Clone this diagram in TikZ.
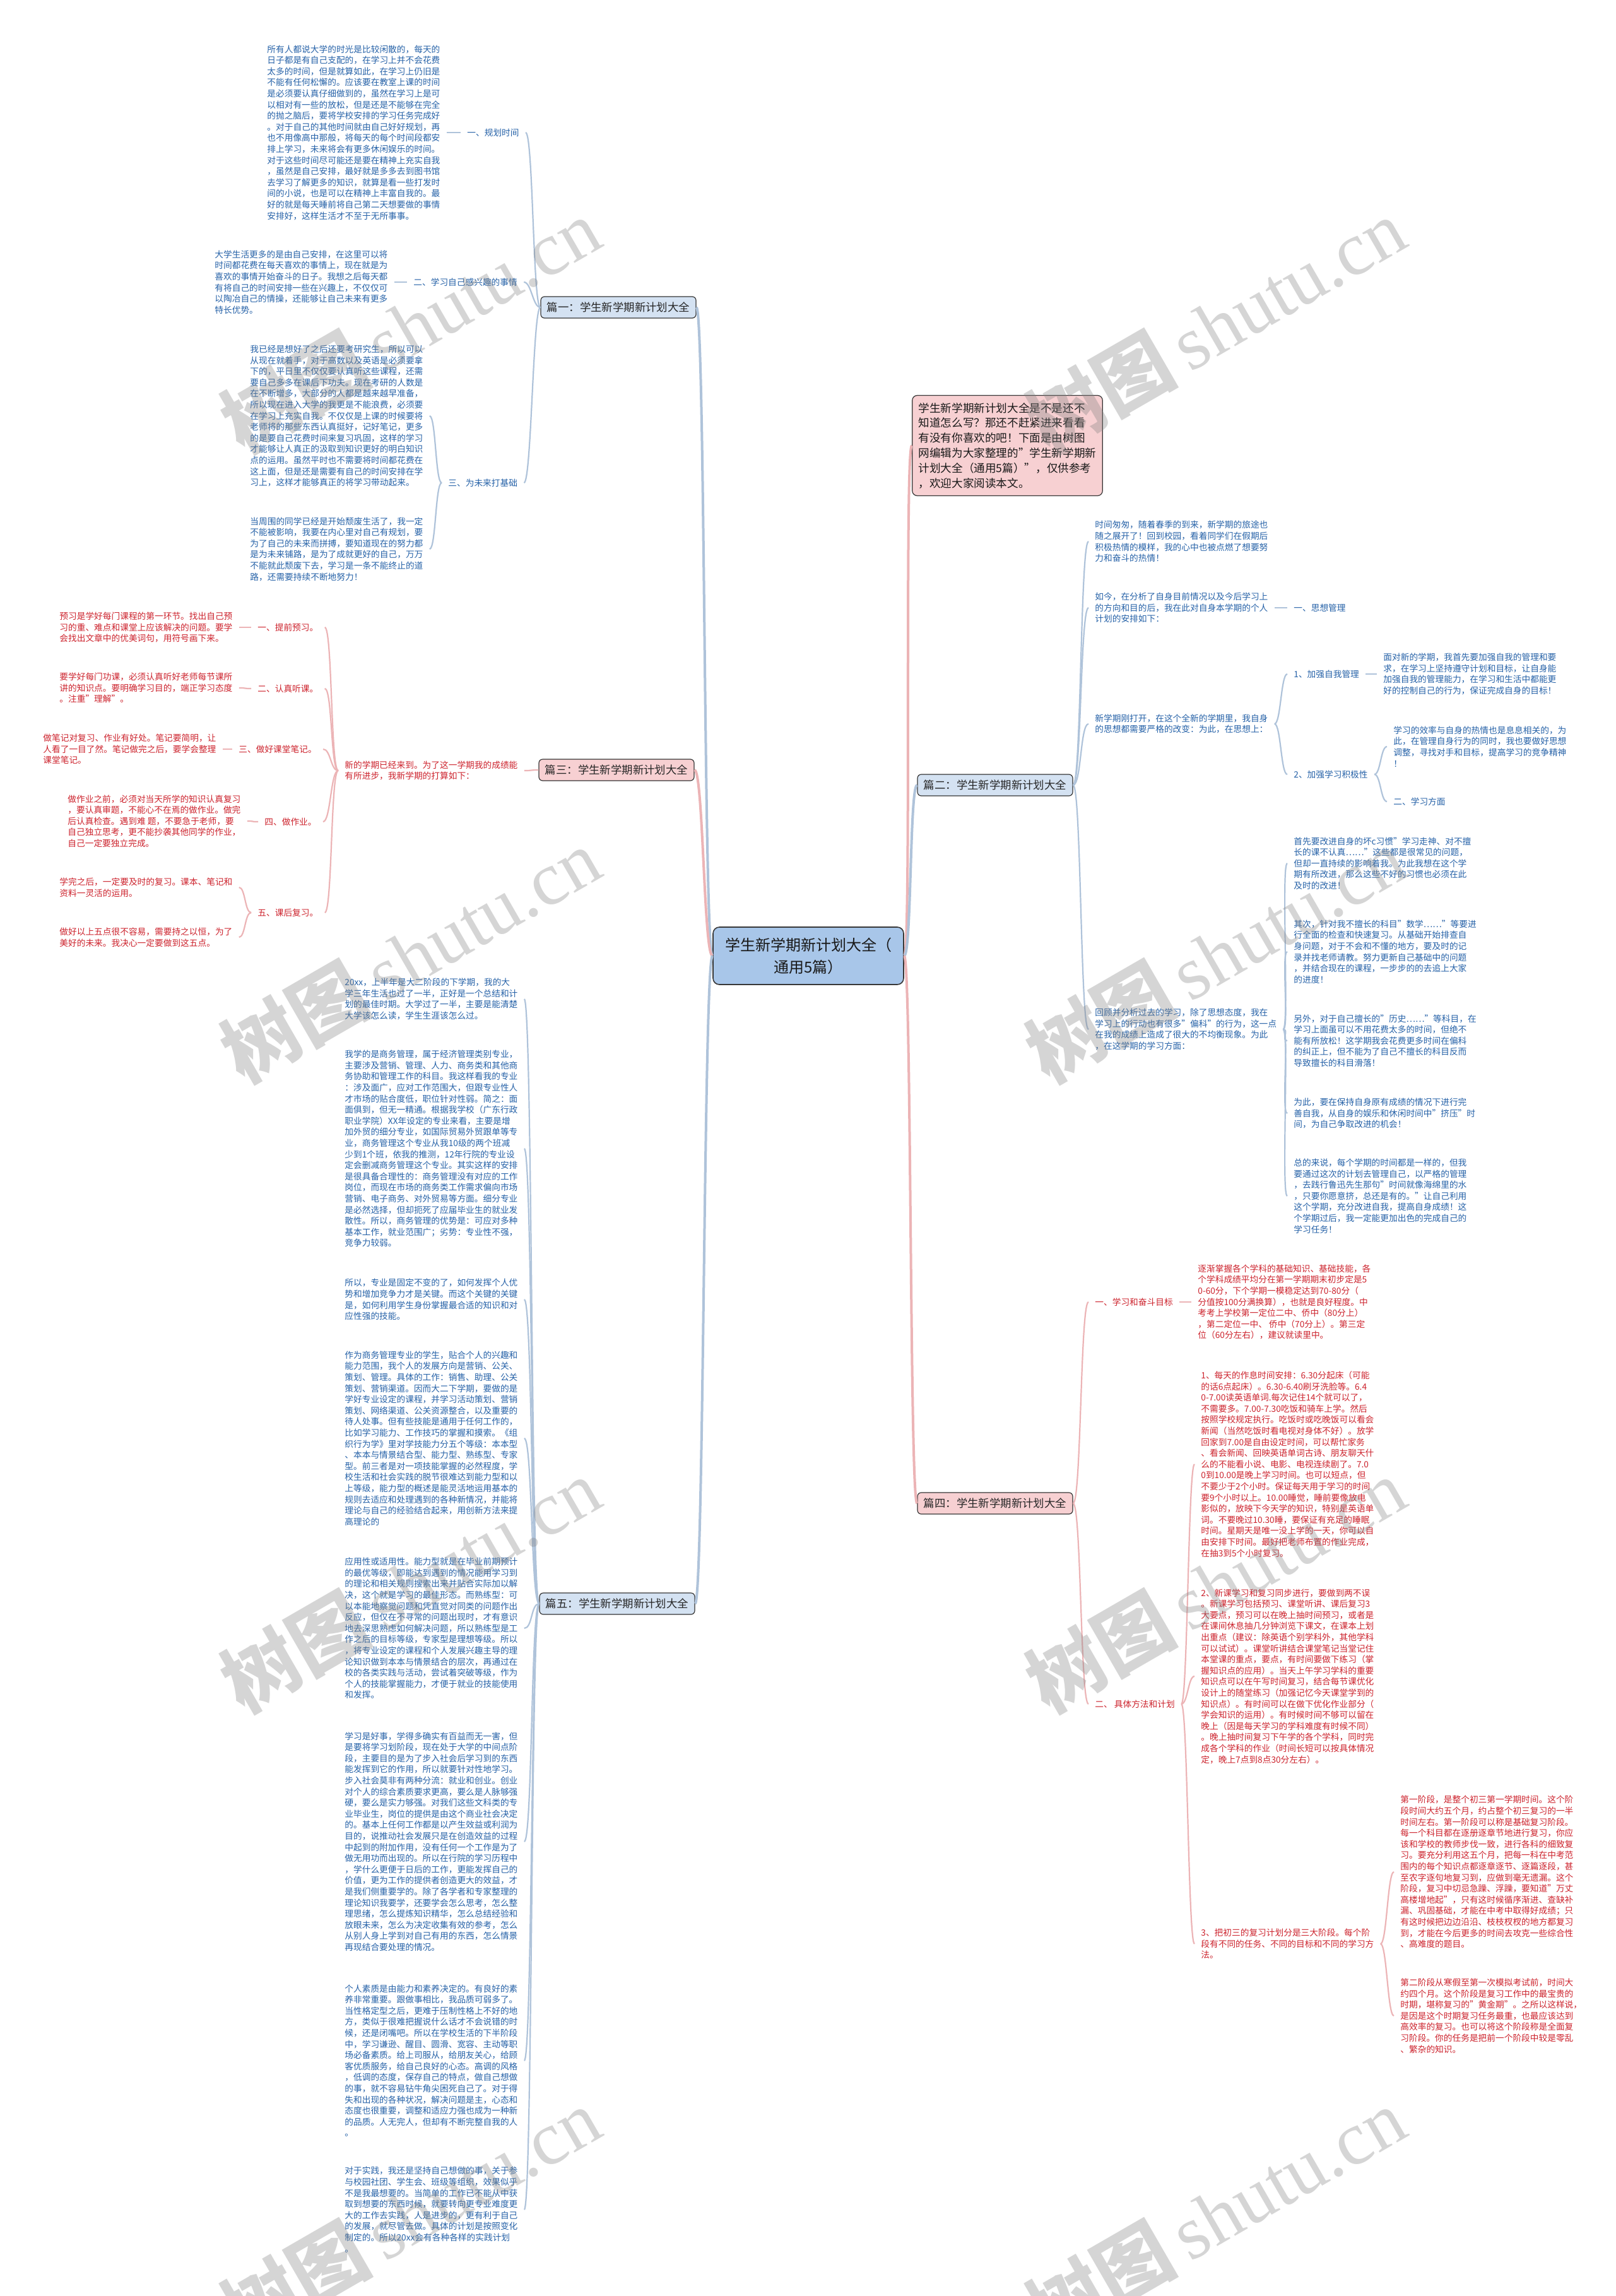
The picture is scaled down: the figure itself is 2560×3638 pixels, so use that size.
\documentclass[tikz,border=0pt]{standalone}
\usepackage{fontspec}
\setmainfont{Noto Sans CJK SC}
\newfontfamily\wmserif{Liberation Serif}
\definecolor{bluet}{RGB}{38,98,168}
\definecolor{redt}{RGB}{205,35,45}
\definecolor{bluel}{RGB}{175,195,218}
\definecolor{redl}{RGB}{236,180,182}
\definecolor{boxb}{RGB}{212,226,242}
\definecolor{boxr}{RGB}{247,208,210}
\definecolor{boxc}{RGB}{168,198,233}
\definecolor{boxd}{RGB}{55,55,55}
\newcommand\txtfont{\fontsize{6.85}{8.8}\selectfont}
\newcommand\lkR[4][14]{\draw[#2] (#3) .. controls +(#1,0) and +(-#1,0) .. (#4);}
\newcommand\lkL[4][14]{\draw[#2] (#3) .. controls +(-#1,0) and +(#1,0) .. (#4);}
\begin{document}
\begin{tikzpicture}[x=0.5pt,y=-0.5pt,
  bt/.style={text=bluet, font=\txtfont, align=left, anchor=west, inner xsep=5pt, inner ysep=1pt},
  rt/.style={bt, text=redt},
  bl/.style={draw=bluel, line width=1.1pt},
  rl/.style={draw=redl, line width=1.1pt},
  bm/.style={draw=bluel, line width=2pt},
  rm/.style={draw=redl, line width=2pt},
  pbox/.style={draw=boxd, line width=0.6pt, rounded corners=3pt, font=\fontsize{8.7}{10}\selectfont, minimum width=123pt, minimum height=17pt, inner sep=2pt, text=black!85},
  bbox/.style={pbox, fill=boxb},
  rbox/.style={pbox, fill=boxr},
  cbox/.style={draw=boxd, line width=0.8pt, rounded corners=5pt, fill=boxc, font=\fontsize{12}{17.5}\selectfont, align=center, minimum width=151pt, minimum height=45.5pt, text=black!90},
  introbox/.style={draw=boxd, line width=0.6pt, rounded corners=4pt, fill=boxr, font=\fontsize{8.8}{11.9}\selectfont, align=left, minimum width=144.5pt, minimum height=79.5pt, inner xsep=5pt, text=black!90},
  wm/.style={font=\fontsize{60}{60}\selectfont, text=gray, opacity=0.33, rotate=30}
]
\useasboundingbox (0,0) rectangle (2560,3638);
\fill[white] (0,0) rectangle (2560,3638);

% ---------- center and main boxes ----------
\node[cbox] (c) at (1281,1514.5) {学生新学期新计划大全（\\通用5篇）};
\node[introbox] (intro) at (1596.5,706) {学生新学期新计划大全是不是还不\\知道怎么写？那还不赶紧进来看看\\有没有你喜欢的吧！下面是由树图\\网编辑为大家整理的"学生新学期新\\计划大全（通用5篇）"，仅供参考\\，欢迎大家阅读本文。};
\node[bbox] (n1) at (980,487) {篇一：学生新学期新计划大全};
\node[rbox] (n3) at (977,1220) {篇三：学生新学期新计划大全};
\node[bbox] (n5) at (978,2541) {篇五：学生新学期新计划大全};
\node[bbox] (n2) at (1577,1244) {篇二：学生新学期新计划大全};
\node[rbox] (n4) at (1577,2382) {篇四：学生新学期新计划大全};

\lkL[14]{bm}{c.west}{n1.east}
\lkL[14]{rm}{c.west}{n3.east}
\lkL[14]{bm}{c.west}{n5.east}
\lkR[12]{rm}{c.east}{intro.west}
\lkR[12]{bm}{c.east}{n2.west}
\lkR[12]{rm}{c.east}{n4.west}

% ---------- 篇一 ----------
\node[bt] (tA) at (413,210) {所有人都说大学的时光是比较闲散的，每天的\\日子都是有自己支配的，在学习上并不会花费\\太多的时间，但是就算如此，在学习上仍旧是\\不能有任何松懈的。应该要在教室上课的时间\\是必须要认真仔细做到的，虽然在学习上是可\\以相对有一些的放松，但是还是不能够在完全\\的抛之脑后，要将学校安排的学习任务完成好\\。对于自己的其他时间就由自己好好规划，再\\也不用像高中那般，将每天的每个时间段都安\\排上学习，未来将会有更多休闲娱乐的时间。\\对于这些时间尽可能还是要在精神上充实自我\\，虽然是自己安排，最好就是多多去到图书馆\\去学习了解更多的知识，就算是看一些打发时\\间的小说，也是可以在精神上丰富自我的。最\\好的就是每天睡前将自己第二天想要做的事情\\安排好，这样生活才不至于无所事事。};
\node[bt] (lA) at (730,210) {一、规划时间};
\node[bt] (tB) at (330,447) {大学生活更多的是由自己安排，在这里可以将\\时间都花费在每天喜欢的事情上，现在就是为\\喜欢的事情开始奋斗的日子。我想之后每天都\\有将自己的时间安排一些在兴趣上，不仅仅可\\以陶冶自己的情操，还能够让自己未来有更多\\特长优势。};
\node[bt] (lB) at (645,447) {二、学习自己感兴趣的事情};
\node[bt] (tC) at (386,659) {我已经是想好了之后还要考研究生，所以可以\\从现在就着手，对于高数以及英语是必须要拿\\下的，平日里不仅仅要认真听这些课程，还需\\要自己多多在课后下功夫。现在考研的人数是\\在不断增多，大部分的人都是越来越早准备，\\所以现在进入大学的我更是不能浪费，必须要\\在学习上充实自我。不仅仅是上课的时候要将\\老师将的那些东西认真挺好，记好笔记，更多\\的是要自己花费时间来复习巩固，这样的学习\\才能够让人真正的汲取到知识更好的明白知识\\点的运用。虽然平时也不需要将时间都花费在\\这上面，但是还是需要有自己的时间安排在学\\习上，这样才能够真正的将学习带动起来。};
\node[bt] (tD) at (386,870) {当周围的同学已经是开始颓废生活了，我一定\\不能被影响，我要在内心里对自己有规划，要\\为了自己的未来而拼搏，要知道现在的努力都\\是为未来铺路，是为了成就更好的自己，万万\\不能就此颓废下去，学习是一条不能终止的道\\路，还需要持续不断地努力！};
\node[bt] (lC) at (700,765) {三、为未来打基础};
\lkR{bl}{tA.east}{lA.west}
\lkR{bl}{tB.east}{lB.west}
\lkL[10]{bl}{lC.west}{tC.east}
\lkL[10]{bl}{lC.west}{tD.east}
\lkL[12]{bl}{n1.west}{lA.east}
\lkL[12]{bl}{n1.west}{lB.east}
\lkL[12]{bl}{n1.west}{lC.east}

% ---------- 篇三 ----------
\node[rt] (t3) at (536,1221) {新的学期已经来到。为了这一学期我的成绩能\\有所进步，我新学期的打算如下：};
\node[rt] (l31) at (398,994) {一、提前预习。};
\node[rt] (l32) at (398,1091) {二、认真听课。};
\node[rt] (l33) at (368,1187) {三、做好课堂笔记。};
\node[rt] (l34) at (409,1302) {四、做作业。};
\node[rt] (l35) at (398,1446) {五、课后复习。};
\node[rt] (t31) at (84,994) {预习是学好每门课程的第一环节。找出自己预\\习的重、难点和课堂上应该解决的问题。要学\\会找出文章中的优美词句，用符号画下来。};
\node[rt] (t32) at (84,1090) {要学好每门功课，必须认真听好老师每节课所\\讲的知识点。要明确学习目的，端正学习态度\\。注重"理解"。};
\node[rt] (t33) at (58,1187) {做笔记对复习、作业有好处。笔记要简明，让\\人看了一目了然。笔记做完之后，要学会整理\\课堂笔记。};
\node[rt] (t34) at (97,1301) {做作业之前，必须对当天所学的知识认真复习\\，要认真审题，不能心不在焉的做作业。做完\\后认真检查。遇到难 题，不要急于老师，要\\自己独立思考，更不能抄袭其他同学的作业，\\自己一定要独立完成。};
\node[rt] (t35a) at (84,1406) {学完之后，一定要及时的复习。课本、笔记和\\资料一灵活的运用。};
\node[rt] (t35b) at (84,1485) {做好以上五点很不容易，需要持之以恒，为了\\美好的未来。我决心一定要做到这五点。};
\lkL{rl}{n3.west}{t3.east}
\lkL[12]{rl}{t3.west}{l31.east}
\lkL[12]{rl}{t3.west}{l32.east}
\lkL[12]{rl}{t3.west}{l33.east}
\lkL[12]{rl}{t3.west}{l34.east}
\lkL[12]{rl}{t3.west}{l35.east}
\lkL{rl}{l31.west}{t31.east}
\lkL{rl}{l32.west}{t32.east}
\lkL{rl}{l33.west}{t33.east}
\lkL{rl}{l34.west}{t34.east}
\lkL[10]{rl}{l35.west}{t35a.east}
\lkL[10]{rl}{l35.west}{t35b.east}

% ---------- 篇二 ----------
\node[bt] (t21) at (1725,858) {时间匆匆，随着春季的到来，新学期的旅途也\\随之展开了！回到校园，看着同学们在假期后\\积极热情的模样，我的心中也被点燃了想要努\\力和奋斗的热情！};
\node[bt] (t22) at (1725,963) {如今，在分析了自身目前情况以及今后学习上\\的方向和目的后，我在此对自身本学期的个人\\计划的安排如下：};
\node[bt] (l21) at (2040,963) {一、思想管理};
\node[bt] (t23) at (1725,1147) {新学期刚打开，在这个全新的学期里，我自身\\的思想都需要严格的改变：为此，在思想上：};
\node[bt] (l22) at (2040,1068) {1、加强自我管理};
\node[bt] (t24) at (2182,1068) {面对新的学期，我首先要加强自我的管理和要\\求，在学习上坚持遵守计划和目标，让自身能\\加强自我的管理能力，在学习和生活中都能更\\好的控制自己的行为，保证完成自身的目标！};
\node[bt] (l23) at (2040,1227) {2、加强学习积极性};
\node[bt] (t25) at (2198,1183) {学习的效率与自身的热情也是息息相关的，为\\此，在管理自身行为的同时，我也要做好思想\\调整，寻找对手和目标，提高学习的竞争精神\\！};
\node[bt] (l24) at (2198,1270) {二、学习方面};
\node[bt] (t26) at (1725,1631) {回顾并分析过去的学习，除了思想态度，我在\\学习上的行动也有很多"偏科"的行为，这一点\\在我的成绩上造成了很大的不均衡现象。为此\\，在这学期的学习方面：};
\node[bt] (p1) at (2040,1368) {首先要改进自身的坏c习惯"学习走神、对不擅\\长的课不认真……"这些都是很常见的问题，\\但却一直持续的影响着我。为此我想在这个学\\期有所改进，那么这些不好的习惯也必须在此\\及时的改进！};
\node[bt] (p2) at (2040,1508) {其次，针对我不擅长的科目"数学……"等要进\\行全面的检查和快速复习。从基础开始排查自\\身问题，对于不会和不懂的地方，要及时的记\\录并找老师请教。努力更新自己基础中的问题\\，并结合现在的课程，一步步的的去追上大家\\的进度！};
\node[bt] (p3) at (2040,1649) {另外，对于自己擅长的"历史……"等科目，在\\学习上面虽可以不用花费太多的时间，但绝不\\能有所放松！这学期我会花费更多时间在偏科\\的纠正上，但不能为了自己不擅长的科目反而\\导致擅长的科目滑落！};
\node[bt] (p4) at (2040,1764) {为此，要在保持自身原有成绩的情况下进行完\\善自我，从自身的娱乐和休闲时间中"挤压"时\\间，为自己争取改进的机会！};
\node[bt] (p5) at (2040,1895) {总的来说，每个学期的时间都是一样的，但我\\要通过这次的计划去管理自己，以严格的管理\\，去践行鲁迅先生那句"时间就像海绵里的水\\，只要你愿意挤，总还是有的。"让自己利用\\这个学期，充分改进自我，提高自身成绩！这\\个学期过后，我一定能更加出色的完成自己的\\学习任务！};
\lkR[13]{bl}{n2.east}{t21.west}
\lkR[13]{bl}{n2.east}{t22.west}
\lkR[13]{bl}{n2.east}{t23.west}
\lkR[13]{bl}{n2.east}{t26.west}
\lkR{bl}{t22.east}{l21.west}
\lkR[10]{bl}{t23.east}{l22.west}
\lkR[10]{bl}{t23.east}{l23.west}
\lkR{bl}{l22.east}{t24.west}
\lkR[10]{bl}{l23.east}{t25.west}
\lkR[10]{bl}{l23.east}{l24.west}
\lkR[10]{bl}{t26.east}{p1.west}
\lkR[10]{bl}{t26.east}{p2.west}
\lkR[10]{bl}{t26.east}{p3.west}
\lkR[10]{bl}{t26.east}{p4.west}
\lkR[10]{bl}{t26.east}{p5.west}

% ---------- 篇四 ----------
\node[rt] (l41) at (1725,2063) {一、学习和奋斗目标};
\node[rt] (t41) at (1888,2063) {逐渐掌握各个学科的基础知识、基础技能，各\\个学科成绩平均分在第一学期期末初步定是5\\0-60分，下个学期一模稳定达到70-80分（\\分值按100分满换算），也就是良好程度。中\\考考上学校第一定位二中、侨中（80分上）\\，第二定位一中、 侨中（70分上）。第三定\\位（60分左右），建议就读里中。};
\node[rt] (l42) at (1725,2700) {二、 具体方法和计划};
\node[rt] (t42) at (1893,2320) {1、每天的作息时间安排：6.30分起床（可能\\的话6点起床）。6.30-6.40刷牙洗脸等。6.4\\0-7.00读英语单词.每次记住14个就可以了，\\不需要多。7.00-7.30吃饭和骑车上学。然后\\按照学校规定执行。吃饭时或吃晚饭可以看会\\新闻（当然吃饭时看电视对身体不好）。放学\\回家到7.00是自由设定时间，可以帮忙家务\\、看会新闻、回映英语单词古诗、朋友聊天什\\么的不能看小说、电影、电视连续剧了。7.0\\0到10.00是晚上学习时间。也可以短点，但\\不要少于2个小时。保证每天用于学习的时间\\要9个小时以上。10.00睡觉，睡前要像放电\\影似的，放映下今天学的知识，特别是英语单\\词。不要晚过10.30睡，要保证有充足的睡眠\\时间。星期天是唯一没上学的一天，你可以自\\由安排下时间。最好把老师布置的作业完成，\\在抽3到5个小时复习。};
\node[rt] (t43) at (1893,2656) {2、新课学习和复习同步进行，要做到两不误\\。新课学习包括预习、课堂听讲、课后复习3\\大要点，预习可以在晚上抽时间预习，或者是\\在课间休息抽几分钟浏览下课文，在课本上划\\出重点（建议：除英语个别学科外，其他学科\\可以试试）。课堂听讲结合课堂笔记当堂记住\\本堂课的重点，要点，有时间要做下练习（掌\\握知识点的应用）。当天上午学习学科的重要\\知识点可以在午写时间复习，结合每节课优化\\设计上的随堂练习（加强记忆今天课堂学到的\\知识点）。有时间可以在做下优化作业部分（\\学会知识的运用）。有时候时间不够可以留在\\晚上（因是每天学习的学科难度有时候不同）\\。晚上抽时间复习下午学的各个学科，同时完\\成各个学科的作业（时间长短可以按具体情况\\定，晚上7点到8点30分左右）。};
\node[rt] (t44) at (1893,3080) {3、把初三的复习计划分是三大阶段。每个阶\\段有不同的任务、不同的目标和不同的学习方\\法。};
\node[rt] (t45) at (2209,2966) {第一阶段，是整个初三第一学期时间。这个阶\\段时间大约五个月，约占整个初三复习的一半\\时间左右。第一阶段可以称是基础复习阶段。\\每一个科目都在逐册逐章节地进行复习，你应\\该和学校的教师步伐一致，进行各科的细致复\\习。要充分利用这五个月，把每一科在中考范\\围内的每个知识点都逐章逐节、逐篇逐段，甚\\至农字逐句地复习到，应做到毫无遗漏。这个\\阶段，复习中切忌急躁、浮躁，要知道"万丈\\高楼增地起"，只有这时候循序渐进、查缺补\\漏、巩固基础，才能在中考中取得好成绩；只\\有这时候把边边沿沿、枝枝杈杈的地方都复习\\到，才能在今后更多的时间去攻克一些综合性\\、高难度的题目。};
\node[rt] (t46) at (2209,3194) {第二阶段从寒假至第一次模拟考试前，时间大\\约四个月。这个阶段是复习工作中的最宝贵的\\时期，堪称复习的"黄金期"。之所以这样说，\\是因是这个时期复习任务最重，也最应该达到\\高效率的复习。也可以将这个阶段称是全面复\\习阶段。你的任务是把前一个阶段中较是零乱\\、繁杂的知识。};
\lkR[13]{rl}{n4.east}{l41.west}
\lkR[13]{rl}{n4.east}{l42.west}
\lkR{rl}{l41.east}{t41.west}
\lkR[10]{rl}{l42.east}{t42.west}
\lkR[10]{rl}{l42.east}{t43.west}
\lkR[10]{rl}{l42.east}{t44.west}
\lkR[10]{rl}{t44.east}{t45.west}
\lkR[10]{rl}{t44.east}{t46.west}

% ---------- 篇五 ----------
\node[bt] (q1) at (536,1583) {20xx，上半年是大二阶段的下学期，我的大\\学三年生活也过了一半，正好是一个总结和计\\划的最佳时期。大学过了一半，主要是能清楚\\大学该怎么读，学生生涯该怎么过。};
\node[bt] (q2) at (536,1820) {我学的是商务管理，属于经济管理类别专业，\\主要涉及营销、管理、人力、商务类和其他商\\务协助和管理工作的科目。我这样看我的专业\\：涉及面广，应对工作范围大，但跟专业性人\\才市场的贴合度低，职位针对性弱。简之：面\\面俱到，但无一精通。根据我学校（广东行政\\职业学院）XX年设定的专业来看，主要是增\\加外贸的细分专业，如国际贸易外贸跟单等专\\业，商务管理这个专业从我10级的两个班减\\少到1个班，依我的推测，12年行院的专业设\\定会删减商务管理这个专业。其实这样的安排\\是很具备合理性的：商务管理没有对应的工作\\岗位，而现在市场的商务类工作需求偏向市场\\营销、电子商务、对外贸易等方面。细分专业\\是必然选择，但却扼死了应届毕业生的就业发\\散性。所以，商务管理的优势是：可应对多种\\基本工作，就业范围广；劣势：专业性不强，\\竞争力较弱。};
\node[bt] (q3) at (536,2059) {所以，专业是固定不变的了，如何发挥个人优\\势和增加竞争力才是关键。而这个关键的关键\\是，如何利用学生身份掌握最合适的知识和对\\应性强的技能。};
\node[bt] (q4) at (536,2279) {作为商务管理专业的学生，贴合个人的兴趣和\\能力范围，我个人的发展方向是营销、公关、\\策划、管理。具体的工作：销售、助理、公关\\策划、营销渠道。因而大二下学期，要做的是\\学好专业设定的课程，并学习活动策划、营销\\策划、网络渠道、公关资源整合，以及重要的\\待人处事。但有些技能是通用于任何工作的，\\比如学习能力、工作技巧的掌握和摸索。《组\\织行为学》里对学技能力分五个等级：本本型\\、本本与情景结合型、能力型、熟练型、专家\\型。前三者是对一项技能掌握的必然程度，学\\校生活和社会实践的脱节很难达到能力型和以\\上等级，能力型的概述是能灵活地运用基本的\\规则去适应和处理遇到的各种新情况，并能将\\理论与自己的经验结合起来，用创新方法来提\\高理论的};
\node[bt] (q5) at (536,2580) {应用性或适用性。能力型就是在毕业前期预计\\的最优等级，即能达到遇到的情况能用学习到\\的理论和相关规则搜索出来并贴合实际加以解\\决，这个就是学习的最佳形态。而熟练型：可\\以本能地察觉问题和凭直觉对同类的问题作出\\反应，但仅在不寻常的问题出现时，才有意识\\地去深思熟虑如何解决问题，所以熟练型是工\\作之后的目标等级，专家型是理想等级。所以\\，将专业设定的课程和个人发展兴趣主导的理\\论知识做到本本与情景结合的层次，再通过在\\校的各类实践与活动，尝试着突破等级，作为\\个人的技能掌握能力，才便于就业的技能使用\\和发挥。};
\node[bt] (q6) at (536,2918) {学习是好事，学得多确实有百益而无一害，但\\是要将学习划阶段，现在处于大学的中间点阶\\段，主要目的是为了步入社会后学习到的东西\\能发挥到它的作用，所以就要针对性地学习。\\步入社会莫非有两种分流：就业和创业。创业\\对个人的综合素质要求更高，要么是人脉够强\\硬，要么是实力够强。对我们这些文科类的专\\业毕业生，岗位的提供是由这个商业社会决定\\的。基本上任何工作都是以产生效益或利润为\\目的，说推动社会发展只是在创造效益的过程\\中起到的附加作用，没有任何一个工作是为了\\做无用功而出现的。所以在行院的学习历程中\\，学什么更便于日后的工作，更能发挥自己的\\价值，更为工作的提供者创造更大的效益，才\\是我们侧重要学的。除了各学者和专家整理的\\理论知识我要学，还要学会怎么思考，怎么整\\理思绪，怎么提炼知识精华，怎么总结经验和\\放眼未来，怎么为决定收集有效的参考，怎么\\从别人身上学到对自己有用的东西，怎么情景\\再现结合要处理的情况。};
\node[bt] (q7) at (536,3265) {个人素质是由能力和素养决定的。有良好的素\\养非常重要。跟做事相比，我品质可弱多了。\\当性格定型之后，更难于压制性格上不好的地\\方，类似于很难把握说什么话才不会说错的时\\候，还是闭嘴吧。所以在学校生活的下半阶段\\中，学习谦逊、醒目、圆滑、宽容、主动等职\\场必备素质。给上司服从，给朋友关心，给顾\\客优质服务，给自己良好的心态。高调的风格\\，低调的态度，保存自己的特点，做自己想做\\的事，就不容易钻牛角尖困死自己了。对于得\\失和出现的各种状况，解决问题是主，心态和\\态度也很重要，调整和适应力强也成为一种新\\的品质。人无完人，但却有不断完整自我的人\\。};
\node[bt] (q8) at (536,3501) {对于实践，我还是坚持自己想做的事，关于参\\与校园社团、学生会、班级等组织，效果似乎\\不是我最想要的。当简单的工作已不能从中获\\取到想要的东西时候，就要转向更专业难度更\\大的工作去实践，人是进步的，更有利于自己\\的发展，就尽管去做。具体的计划是按照变化\\制定的。所以20xx会有各种各样的实践计划\\。};
\lkL[13]{bl}{n5.west}{q1.east}
\lkL[13]{bl}{n5.west}{q2.east}
\lkL[13]{bl}{n5.west}{q3.east}
\lkL[13]{bl}{n5.west}{q4.east}
\lkL[13]{bl}{n5.west}{q5.east}
\lkL[13]{bl}{n5.west}{q6.east}
\lkL[13]{bl}{n5.west}{q7.east}
\lkL[13]{bl}{n5.west}{q8.east}

% ---------- watermarks ----------
\foreach \wx/\wy [count=\k] in {650/515, 1926/515, 650/1513, 1926/1513, 650/2511, 1926/2511, 650/3509, 1926/3509}
  \node[wm] (wm\k) at (\wx,\wy) {{\bfseries 树图}\,{\wmserif shutu.cn}};
\end{tikzpicture}
\end{document}
